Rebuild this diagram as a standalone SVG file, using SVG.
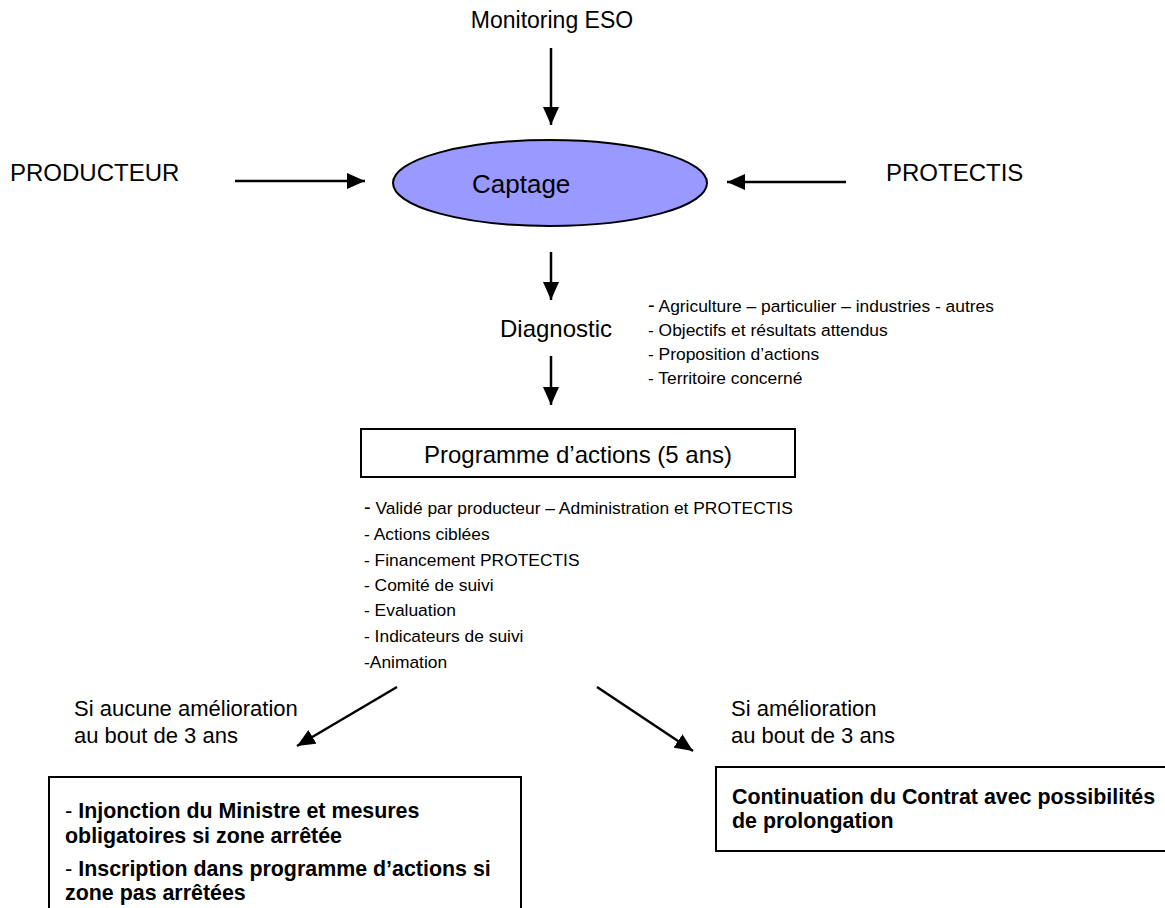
<svg xmlns="http://www.w3.org/2000/svg" width="1165" height="908" viewBox="0 0 1165 908">
<defs>
<style>
text{font-family:"Liberation Sans",Arial,sans-serif;fill:#000}
.big{font-size:22px}
.huge{font-size:24px}
.lst{font-size:17.4px}
.bold{font-size:21.4px;font-weight:bold}
.box{fill:#fff;stroke:#000;stroke-width:2}
.con{stroke:#000;stroke-width:2.5;fill:none;marker-end:url(#ah)}
</style>
<marker id="ah" markerUnits="userSpaceOnUse" viewBox="0 0 18 16" refX="18" refY="8" markerWidth="18" markerHeight="16" orient="auto">
<path d="M0,0 L18,8 L0,16 z" fill="#000"/>
</marker>
</defs>
<rect width="1165" height="908" fill="#fff"/>
<g id="connectors">
<line class="con" x1="551" y1="48" x2="551" y2="125"/>
<line class="con" x1="235" y1="181" x2="365" y2="181"/>
<line class="con" x1="846" y1="182" x2="727" y2="182"/>
<line class="con" x1="551" y1="252" x2="551" y2="300"/>
<line class="con" x1="551" y1="356" x2="551" y2="405"/>
<line class="con" x1="397" y1="687" x2="297" y2="746"/>
<line class="con" x1="597" y1="687" x2="693" y2="751"/>
</g>
<g id="monitoring"><text x="552" y="28" text-anchor="middle" style="font-size:23px">Monitoring ESO</text></g>
<g id="producteur"><text class="huge" x="10" y="181">PRODUCTEUR</text></g>
<g id="protectis"><text class="huge" x="886" y="181">PROTECTIS</text></g>
<g id="captage">
<ellipse cx="550" cy="183" rx="157" ry="43" fill="#9999ff" stroke="#000" stroke-width="2"/>
<text x="472" y="193" style="font-size:26px">Captage</text>
</g>
<g id="diagnostic"><text x="556" y="337" text-anchor="middle" style="font-size:24px">Diagnostic</text></g>
<g id="diag-list">
<text class="lst" x="648" y="312"><tspan style="font-size:20px">-</tspan> Agriculture – particulier – industries - autres</text>
<text class="lst" x="648" y="336">- Objectifs et résultats attendus</text>
<text class="lst" x="648" y="360">- Proposition d’actions</text>
<text class="lst" x="648" y="384">- Territoire concerné</text>
</g>
<g id="programme">
<rect class="box" x="361" y="429" width="434" height="48"/>
<text x="578" y="463" text-anchor="middle" style="font-size:24px">Programme d’actions (5 ans)</text>
</g>
<g id="prog-list">
<text class="lst" x="364" y="514"><tspan style="font-size:20px">-</tspan> Validé par producteur – Administration et PROTECTIS</text>
<text class="lst" x="364" y="540">- Actions ciblées</text>
<text class="lst" x="364" y="566">- Financement PROTECTIS</text>
<text class="lst" x="364" y="591">- Comité de suivi</text>
<text class="lst" x="364" y="616">- Evaluation</text>
<text class="lst" x="364" y="642">- Indicateurs de suivi</text>
<text class="lst" x="364" y="668">-Animation</text>
</g>
<g id="label-left">
<text class="big" x="74" y="716">Si aucune amélioration</text>
<text class="big" x="74" y="743">au bout de 3 ans</text>
</g>
<g id="label-right">
<text class="big" x="731" y="716">Si amélioration</text>
<text class="big" x="731" y="743">au bout de 3 ans</text>
</g>
<g id="box-left">
<rect class="box" x="49" y="777" width="472" height="150"/>
<text class="bold" x="65" y="818"><tspan style="font-weight:normal;font-size:22px">-</tspan> Injonction du Ministre et mesures</text>
<text class="bold" x="65" y="843">obligatoires si zone arrêtée</text>
<text class="bold" x="65" y="876"><tspan style="font-weight:normal;font-size:22px">-</tspan> Inscription dans programme d’actions si</text>
<text class="bold" x="65" y="900">zone pas arrêtées</text>
</g>
<g id="box-right">
<rect class="box" x="716" y="767" width="460" height="84"/>
<text class="bold" x="732" y="804">Continuation du Contrat avec possibilités</text>
<text class="bold" x="732" y="828">de prolongation</text>
</g>
</svg>
